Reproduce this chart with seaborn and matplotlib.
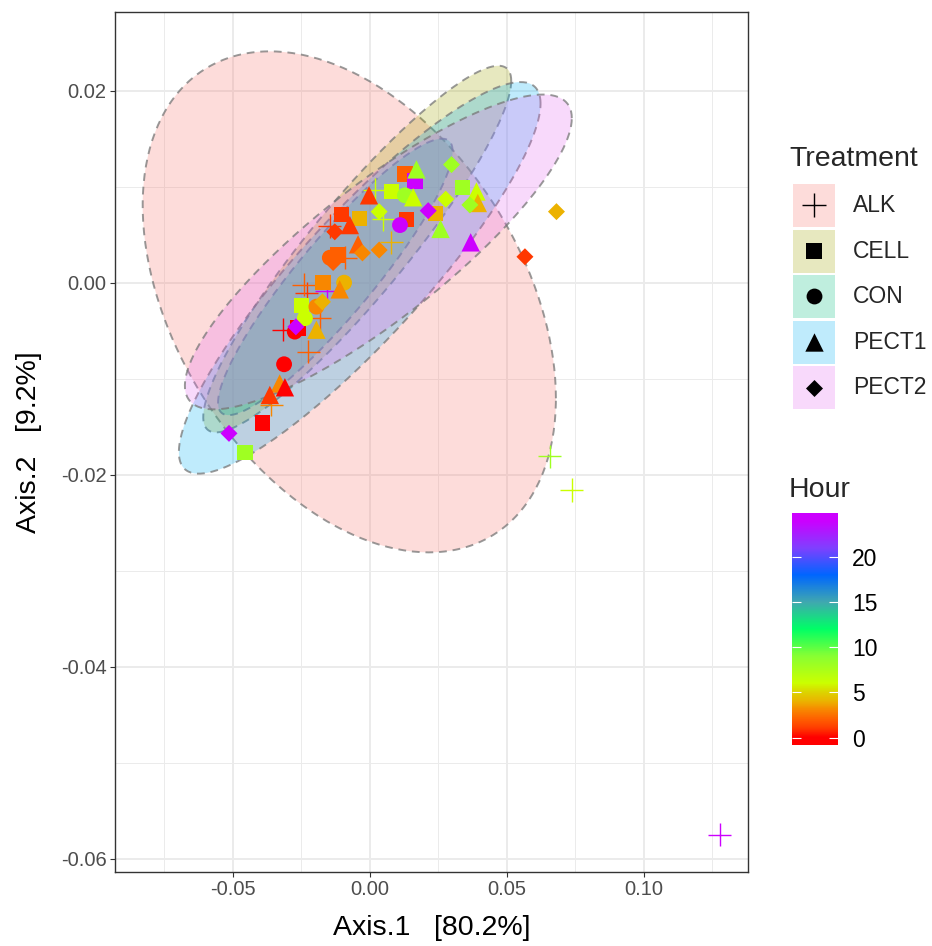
import numpy as np
import pandas as pd
import matplotlib
matplotlib.use("Agg")
import matplotlib.pyplot as plt
from matplotlib.colors import LinearSegmentedColormap, Normalize
from matplotlib.patches import Rectangle
from matplotlib.ticker import FixedLocator
import seaborn as sns

# treatments and their fill colours (ggplot default hues)
treatments = ['ALK', 'CELL', 'CON', 'PECT1', 'PECT2']
fill_colors = ['#F8766D', '#A3A500', '#00BF7D', '#00B0F6', '#E76BF3']
markers = ['+', 's', 'o', '^', 'D']
marker_sizes = [280, 125, 130, 175, 75]

# PCoA coordinates
alk_x = [0.0018, 0.0049, -0.0146, 0.0079, -0.0091, -0.0231, -0.0158, -0.0183,
         -0.0316, -0.0225, -0.0359, 0.0657, 0.0737, 0.1277, -0.0241]
alk_y = [0.0097, 0.0066, 0.0059, 0.0042, 0.0026, -0.0011, -0.0009, -0.0037,
         -0.0049, -0.0072, -0.0127, -0.0181, -0.0216, -0.0575, -0.0002]
alk_hour = [6, 6, 1, 4, 2, 1, 24, 2, 0, 2, 3, 8, 6, 24, 2]

cell_x = [0.0128, 0.0164, 0.0079, -0.0037, -0.0103, 0.0134, 0.0240, 0.0338,
          -0.0116, -0.0170, -0.0249, -0.0263, -0.0392, -0.0456]
cell_y = [0.0113, 0.0106, 0.0095, 0.0067, 0.0071, 0.0066, 0.0072, 0.0099,
          0.0029, 0.0000, -0.0024, -0.0047, -0.0146, -0.0177]
cell_hour = [2, 24, 6, 4, 1, 1, 4, 8, 2, 3, 6, 0, 0, 8]

con_x = [0.0128, 0.0110, -0.0146, -0.0094, -0.0195, -0.0237, -0.0274, -0.0313]
con_y = [0.0091, 0.0060, 0.0026, 0.0000, -0.0025, -0.0037, -0.0051, -0.0085]
con_hour = [8, 24, 2, 4, 3, 6, 0, 0]

pect1_x = [0.0170, 0.0158, -0.0003, -0.0073, 0.0258, 0.0389, 0.0394, 0.0368,
           -0.0043, -0.0110, -0.0195, -0.0329, -0.0310, -0.0365]
pect1_y = [0.0118, 0.0089, 0.0091, 0.0060, 0.0056, 0.0095, 0.0083, 0.0042,
           0.0040, -0.0007, -0.0049, -0.0105, -0.0109, -0.0117]
pect1_hour = [8, 6, 1, 1, 8, 6, 4, 24, 2, 3, 4, 3, 0, 1]

pect2_x = [0.0298, 0.0034, -0.0128, 0.0213, 0.0277, 0.0365, 0.0681, 0.0566,
           0.0034, -0.0027, -0.0134, -0.0173, -0.0270, -0.0514]
pect2_y = [0.0123, 0.0074, 0.0053, 0.0075, 0.0087, 0.0081, 0.0074, 0.0027,
           0.0034, 0.0031, 0.0021, -0.0020, -0.0046, -0.0157]
pect2_hour = [8, 6, 1, 24, 6, 8, 4, 1, 3, 3, 2, 4, 24, 24]

# 95% ellipses: centre, half extents and correlation, per treatment
ell_cx = [-0.0075, -0.0046, -0.0126, -0.0037, 0.0031]
ell_cy = [-0.0020, 0.0035, 0.0006, 0.0005, 0.0032]
ell_sx = [0.0754, 0.0562, 0.0428, 0.0660, 0.0706]
ell_sy = [0.0261, 0.0191, 0.0144, 0.0204, 0.0164]
ell_r = [-0.385, 0.917, 0.910, 0.890, 0.85]

# rainbow colour scale for Hour
hour_nodes = [0, 1, 2, 3, 4, 5, 6, 9, 12, 15, 18, 21, 24]
hour_colors = ['#FF0000', '#FF3C00', '#FF6000', '#F88600', '#EBB400', '#DCD400',
               '#CCFF00', '#88FF33', '#00FF66', '#40A8B0', '#0066FF', '#8040FF',
               '#CC00FF']
hour_ticks = [0, 5, 10, 15, 20]

x_ticks = [-0.05, 0.00, 0.05, 0.10]
y_ticks = [0.02, 0.00, -0.02, -0.04, -0.06]

frames = []
for name, xs, ys, hs in [('ALK', alk_x, alk_y, alk_hour),
                         ('CELL', cell_x, cell_y, cell_hour),
                         ('CON', con_x, con_y, con_hour),
                         ('PECT1', pect1_x, pect1_y, pect1_hour),
                         ('PECT2', pect2_x, pect2_y, pect2_hour)]:
    frames.append(pd.DataFrame({'Axis.1': xs, 'Axis.2': ys, 'Hour': hs,
                                'Treatment': name}))
df = pd.concat(frames, ignore_index=True)

cmap = LinearSegmentedColormap.from_list(
    'hour', [(h / 24, c) for h, c in zip(hour_nodes, hour_colors)])
norm = Normalize(0, 24)

sns.set_theme(style='white')
plt.rcParams['font.family'] = ['Liberation Sans', 'DejaVu Sans']
plt.rcParams['axes.unicode_minus'] = False

W, H = 932, 946
fig = plt.figure(figsize=(W / 100, H / 100), dpi=100)
ax = fig.add_axes([115 / W, 1 - 872 / H, 633 / W, 860 / H])

# ellipses first, points on top
t = np.linspace(0, 2 * np.pi, 300)
for i, name in enumerate(treatments):
    ex = ell_cx[i] + ell_sx[i] * np.cos(t)
    ey = ell_cy[i] + ell_sy[i] * (ell_r[i] * np.cos(t) +
                                  np.sqrt(1 - ell_r[i] ** 2) * np.sin(t))
    ax.fill(ex, ey, color=fill_colors[i], alpha=0.25, lw=0, zorder=2)
    ax.plot(ex, ey, color='#777777', alpha=0.75, lw=1.4,
            linestyle=(0, (4.0, 3.0)), zorder=2)

for i, name in enumerate(treatments):
    sub = df[df['Treatment'] == name]
    if markers[i] == '+':
        sns.scatterplot(data=sub, x='Axis.1', y='Axis.2', hue='Hour',
                        palette=cmap, hue_norm=norm, marker='+',
                        s=marker_sizes[i], linewidth=1.0, edgecolor=None,
                        legend=False, ax=ax, zorder=3)
    else:
        sns.scatterplot(data=sub, x='Axis.1', y='Axis.2', hue='Hour',
                        palette=cmap, hue_norm=norm, marker=markers[i],
                        s=marker_sizes[i], linewidth=0, edgecolor='none',
                        legend=False, ax=ax, zorder=3)

ax.set_xlim(-0.093, 0.138)
ax.set_ylim(-0.0614, 0.0282)
ax.xaxis.set_major_locator(FixedLocator(x_ticks))
ax.yaxis.set_major_locator(FixedLocator(y_ticks))
ax.xaxis.set_minor_locator(FixedLocator([-0.075, -0.025, 0.025, 0.075, 0.125]))
ax.yaxis.set_minor_locator(FixedLocator([0.01, -0.01, -0.03, -0.05]))
ax.set_xticklabels(['%.2f' % v for v in x_ticks])
ax.set_yticklabels(['%.2f' % v for v in y_ticks])
ax.grid(which='major', color='#EBEBEB', lw=1.4, zorder=0)
ax.grid(which='minor', color='#EBEBEB', lw=0.7, zorder=0)
ax.set_axisbelow(True)
ax.tick_params(which='major', length=3.6, width=0.8, color='#333333',
               labelsize=14.5, labelcolor='#4D4D4D', pad=2.5,
               bottom=True, left=True)
ax.tick_params(which='minor', length=0)
for sp in ax.spines.values():
    sp.set_color('#333333')
    sp.set_linewidth(1.0)
ax.set_xlabel('Axis.1   [80.2%]', fontsize=20.5, color='black')
ax.set_ylabel('Axis.2   [9.2%]', fontsize=20.5, color='black')
ax.xaxis.set_label_coords(0.5, -0.05)
ax.yaxis.set_label_coords(-0.115, 0.5)

# Treatment legend, drawn in pixel space
lg = fig.add_axes([0, 0, 1, 1], zorder=5)
lg.set_xlim(0, W)
lg.set_ylim(H, 0)
lg.axis('off')
lg.text(789, 166, 'Treatment', fontsize=20.5, ha='left', va='baseline')
for i, name in enumerate(treatments):
    top = 184 + i * 45.5
    lg.add_patch(Rectangle((793, top), 42, 43, facecolor=fill_colors[i],
                           alpha=0.25, lw=0))
    if markers[i] == '+':
        lg.scatter([814], [top + 21.5], marker='+', s=marker_sizes[i],
                   c='black', linewidths=1.0)
    else:
        lg.scatter([814], [top + 21.5], marker=markers[i],
                   s=marker_sizes[i], c='black', linewidths=0)
    lg.text(853, top + 21.5, name, fontsize=16.5, ha='left', va='center')

lg.text(789, 497, 'Hour', fontsize=20.5, ha='left', va='baseline')

# Hour colourbar
cax = fig.add_axes([792 / W, 1 - 745 / H, 46 / W, 232 / H])
vals = np.linspace(-0.8, 24.8, 400)
cax.imshow(np.clip(vals, 0, 24)[:, None], aspect='auto', origin='lower',
           cmap=cmap, norm=norm, extent=[0, 1, -0.8, 24.8])
cax.set_xticks([])
cax.set_yticks(hour_ticks)
cax.yaxis.tick_right()
cax.tick_params(axis='y', direction='in', length=6.5, width=0.8,
                color='white', left=True, right=True, labelleft=False,
                labelright=True, labelsize=16.5, labelcolor='black', pad=10)
for sp in cax.spines.values():
    sp.set_visible(False)

fig.savefig('out.png', dpi=100, facecolor='white')
